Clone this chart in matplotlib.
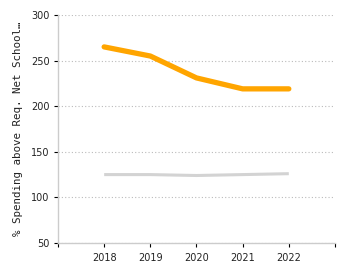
import matplotlib
matplotlib.use("Agg")
import matplotlib.pyplot as plt

years = [2018, 2019, 2020, 2021, 2022]
orange_values = [265, 255, 231, 219, 219]
gray_values = [125, 125, 124, 125, 126]
y_ticks = [50, 100, 150, 200, 250, 300]
y_label = "% Spending above Req. Net School\u2026"

fig = plt.figure(figsize=(3.5, 2.75), dpi=100)
ax = fig.add_axes([0.1657, 0.1164, 0.7914, 0.8291])

ax.plot(years, gray_values, color="#d3d3d3", lw=2.2, solid_capstyle="butt", zorder=3)
ax.plot(years, orange_values, color="#ffa500", lw=3.8, solid_capstyle="round", zorder=4)

ax.set_xlim(2017, 2023)
ax.set_ylim(50, 300)
ax.set_xticks([2017] + years + [2023])
ax.set_xticklabels([""] + [str(y) for y in years] + [""])
ax.set_yticks(y_ticks)
ax.set_yticklabels([str(v) for v in y_ticks])

for s in ["top", "right"]:
    ax.spines[s].set_visible(False)
for s in ["left", "bottom"]:
    ax.spines[s].set_color("#cccccc")
    ax.spines[s].set_linewidth(1)

ax.grid(axis="y", color="#bbbbbb", linestyle=(0, (1, 2)), linewidth=0.8)
ax.set_axisbelow(True)
ax.tick_params(axis="both", labelsize=7, labelcolor="#222222", color="#000000", length=3, width=0.8, pad=3)
ax.tick_params(axis="x", pad=4)
ax.set_ylabel(y_label, fontsize=7.8, family="DejaVu Sans Mono", color="#222222", labelpad=6)

fig.savefig("out.png", dpi=100)
